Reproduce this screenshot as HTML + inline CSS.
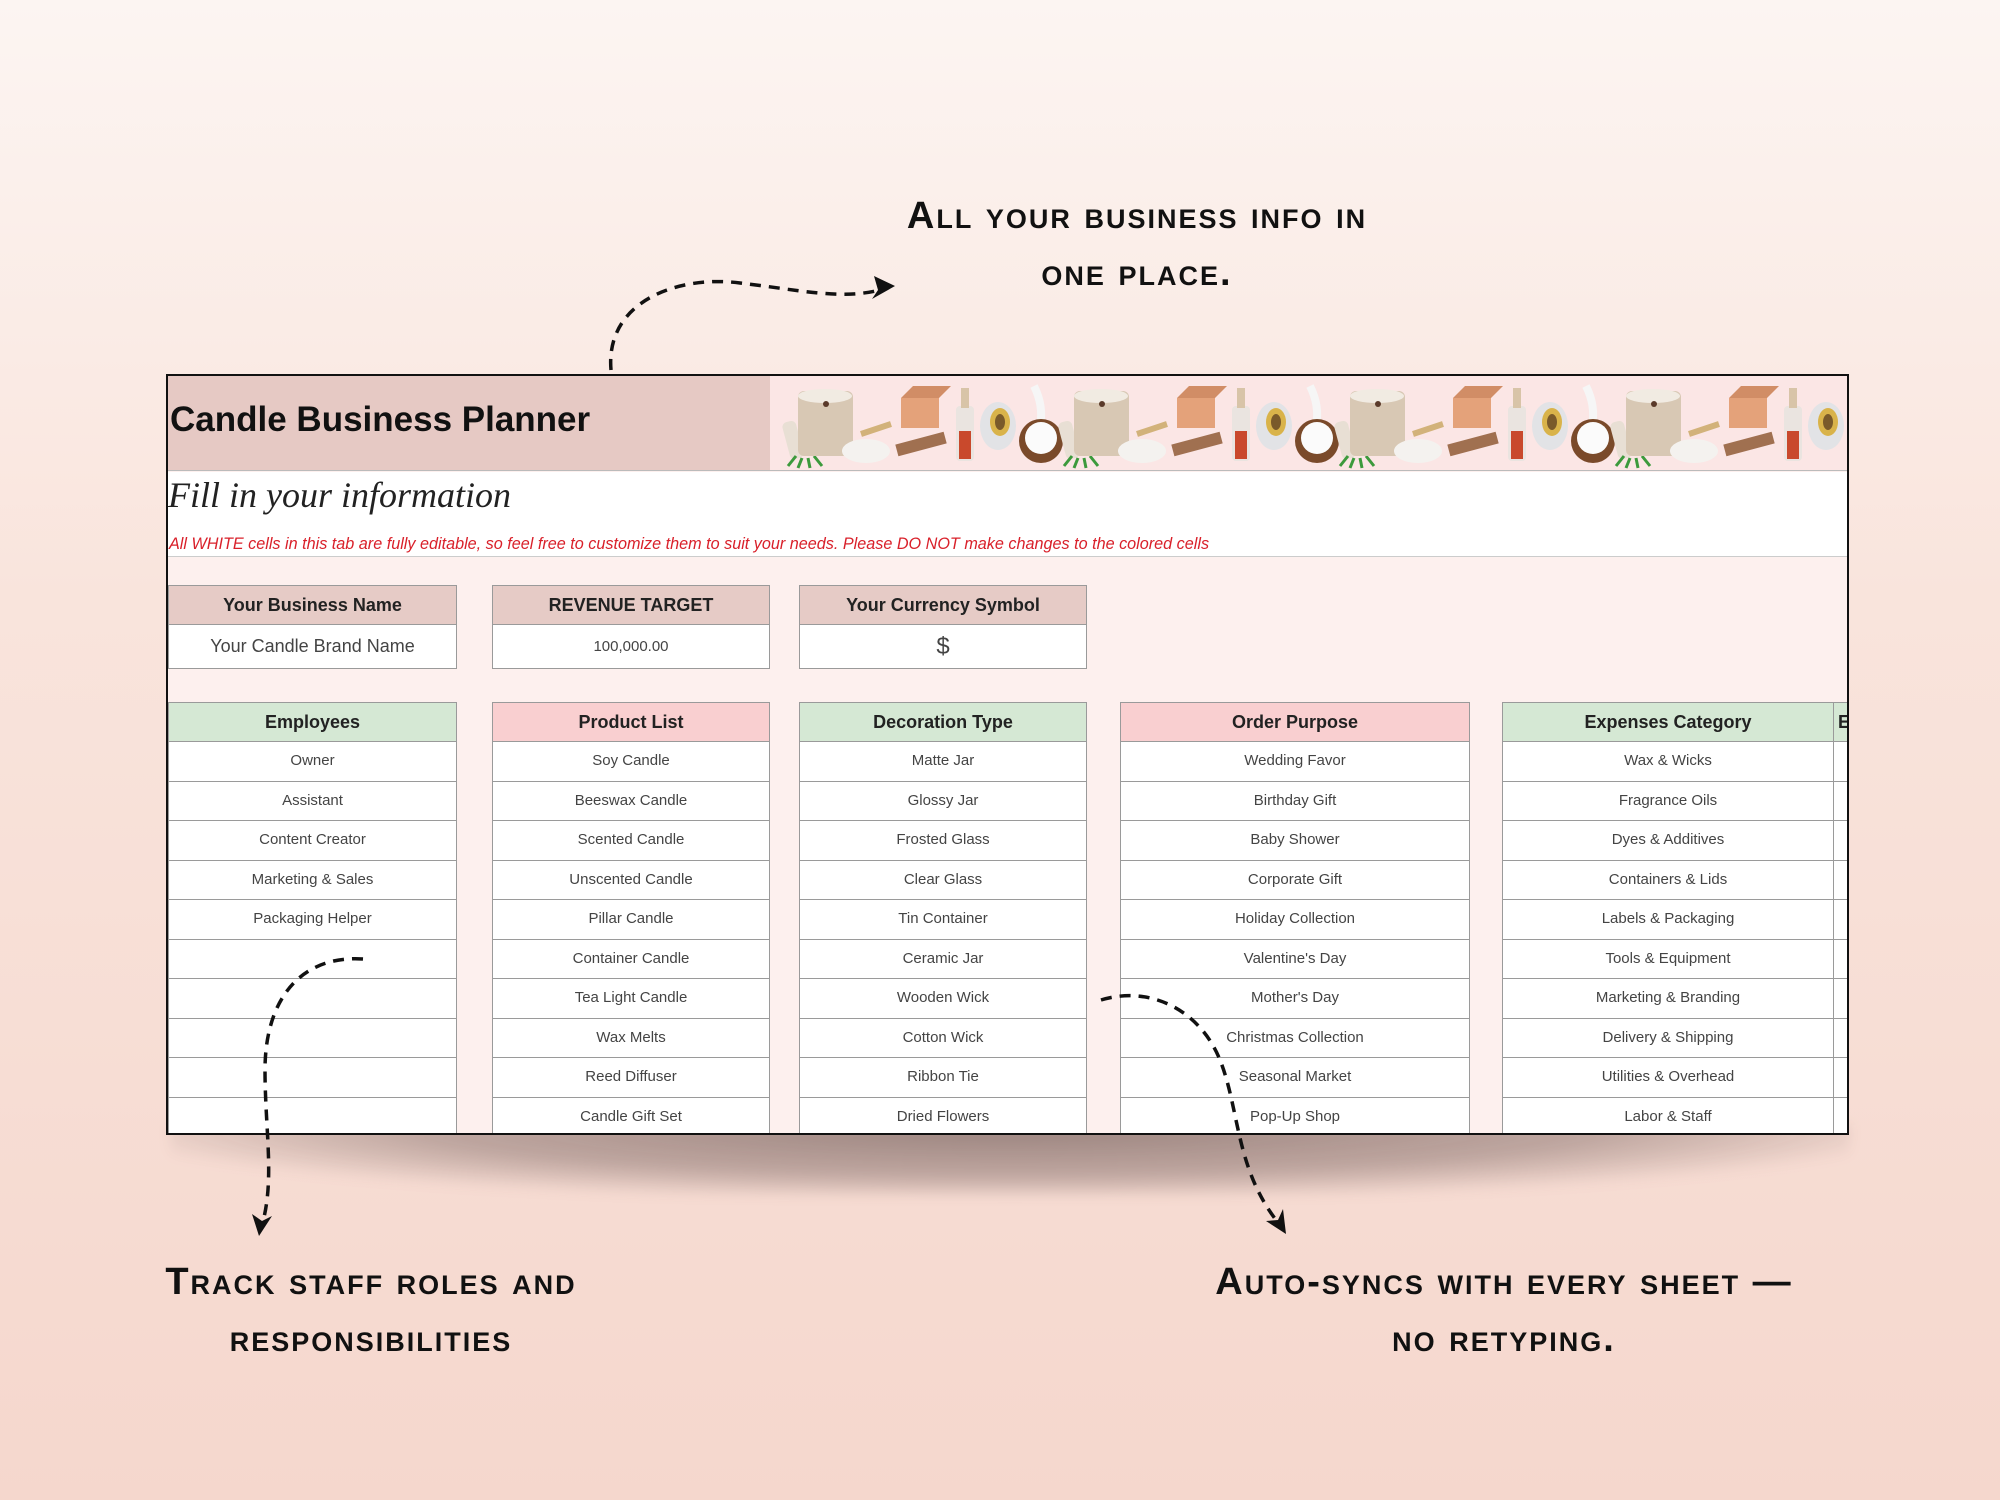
<!DOCTYPE html>
<html><head><meta charset="utf-8"><style>
*{margin:0;padding:0;box-sizing:border-box}
body{width:2000px;height:1500px;position:relative;overflow:hidden;font-family:"Liberation Sans",sans-serif;background:linear-gradient(180deg,#fcf5f2 0%,#f9e4dc 40%,#f5d7cd 100%)}
.ann{position:absolute;font-weight:bold;font-variant:small-caps;font-size:38px;letter-spacing:2px;color:#111;text-align:center;line-height:57px}
#panel{position:absolute;left:166px;top:374px;width:1683px;height:761px;border:2px solid #111;background:#fdf0ee;overflow:hidden}
.shadow{position:absolute;left:170px;top:1125px;width:1680px;height:70px;background:radial-gradient(ellipse at 50% 0%,rgba(60,40,40,.5) 0%,rgba(60,40,40,.3) 50%,rgba(0,0,0,0) 78%);filter:blur(6px)}
.abs{position:absolute}
.cell{position:absolute;border:1px solid #9a9a9a;text-align:center;font-size:15px;color:#444;background:#fff}
.hd{font-weight:bold;font-size:18px;color:#222}
</style></head><body>
<div class="shadow"></div>
<div id="panel">
  <div class="abs" style="left:0;top:0;width:602px;height:95px;background:#e6c9c4;border-bottom:1px solid #bbb"></div>
  <div class="abs" style="left:602px;top:0;width:1081px;height:95px;background:#fbe6e5;border-bottom:1px solid #bbb"></div>
  <div class="abs" style="left:2px;top:24px;font-size:35px;font-weight:bold;color:#111">Candle Business Planner</div>
  <svg class="abs" style="left:602px;top:0" width="1081" height="95">
    <defs><g id="it">
      <rect x="10" y="45" width="14" height="38" rx="5" fill="#e8dfd4" transform="rotate(-15 17 64)"/>
      <path d="M20 80 l-8 10 M26 82 l-4 10 M32 82 l2 10 M38 80 l8 10" stroke="#3c9a3c" stroke-width="3"/>
      <rect x="22" y="15" width="55" height="65" rx="6" fill="#d8c8b4"/>
      <ellipse cx="49" cy="20" rx="27" ry="7" fill="#f1ebe2"/>
      <circle cx="50" cy="28" r="3" fill="#5a3a2a"/>
      <ellipse cx="90" cy="75" rx="24" ry="12" fill="#f4f2ef"/>
      <path d="M85 58 l30 -10" stroke="#d2b27a" stroke-width="6"/>
      <rect x="125" y="22" width="38" height="30" fill="#e4a27a"/>
      <path d="M125 22 l12 -12 h38 l-12 12z" fill="#d18d66"/>
      <rect x="120" y="62" width="50" height="12" fill="#a07050" transform="rotate(-15 145 68)"/>
      <rect x="180" y="30" width="18" height="55" rx="4" fill="#eae4e0"/>
      <rect x="183" y="55" width="12" height="28" fill="#c9492c"/>
      <rect x="185" y="12" width="8" height="20" fill="#d8c4a8"/>
      <ellipse cx="222" cy="50" rx="18" ry="24" fill="#e2e3e6"/>
      <ellipse cx="224" cy="46" rx="10" ry="14" fill="#d9b34a"/>
      <ellipse cx="224" cy="46" rx="5" ry="8" fill="#7a5a2a"/>
      <path d="M258 10 q10 20 6 40" stroke="#f6f6f6" stroke-width="8" fill="none"/>
      <circle cx="265" cy="65" r="22" fill="#7a4a2a"/>
      <circle cx="265" cy="62" r="16" fill="#fbfbfb"/>
    </g></defs>
    <use href="#it" x="6"/><use href="#it" x="282"/><use href="#it" x="558"/><use href="#it" x="834"/>
  </svg>
  <div class="abs" style="left:0;top:96px;width:1683px;height:85px;background:#fff;border-bottom:1px solid #ccc"></div>
  <div class="abs" style="left:0;top:98px;font-family:'Liberation Serif',serif;font-style:italic;font-size:36px;color:#222">Fill in your information</div>
  <div class="abs" style="left:1px;top:159px;font-style:italic;font-size:16.2px;color:#d9202a">All WHITE cells in this tab are fully editable, so feel free to customize them to suit your needs. Please DO NOT make changes to the colored cells</div>

  <div class="cell hd" style="left:0;top:209px;width:289px;height:40px;line-height:38px;background:#e6cbc6">Your Business Name</div>
  <div class="cell" style="left:0;top:248px;width:289px;height:45px;line-height:43px;font-size:18px">Your Candle Brand Name</div>
  <div class="cell hd" style="left:324px;top:209px;width:278px;height:40px;line-height:38px;background:#e6cbc6">REVENUE TARGET</div>
  <div class="cell" style="left:324px;top:248px;width:278px;height:45px;line-height:43px">100,000.00</div>
  <div class="cell hd" style="left:631px;top:209px;width:288px;height:40px;line-height:38px;background:#e6cbc6">Your Currency Symbol</div>
  <div class="cell" style="left:631px;top:248px;width:288px;height:45px;line-height:43px;font-size:24px">$</div>
  <div id="lists"></div>
</div>
<div class="ann" style="left:737px;top:188px;width:800px">All your business info in<br>one place.</div>
<div class="ann" style="left:0px;top:1254px;width:742px">Track staff roles and<br>responsibilities</div>
<div class="ann" style="left:1104px;top:1254px;width:800px">Auto-syncs with every sheet —<br>no retyping.</div>
<svg class="abs" style="left:0;top:0" width="2000" height="1500">
<g fill="none" stroke="#111" stroke-width="3.5" stroke-dasharray="11 8">
<path d="M611 370 C605 300 680 275 740 283 C800 290 840 300 880 290"/>
<path d="M363 959 C300 955 265 1000 265 1070 C265 1130 275 1180 262 1225"/>
<path d="M1101 1000 C1150 985 1200 1010 1220 1060 C1240 1110 1235 1170 1280 1225"/>
</g>
<g fill="#111">
<path d="M895 286 L874 276 L878 290 L872 299z"/>
<path d="M259 1236 L252 1214 L262 1221 L272 1216z"/>
<path d="M1286 1234 L1266 1221 L1278 1220 L1283 1209z"/>
</g>
</svg>
<script>
var cols=[
[0,289,"#d5e8d4","Employees",["Owner","Assistant","Content Creator","Marketing & Sales","Packaging Helper","","","","",""]],
[324,278,"#f9cfd0","Product List",["Soy Candle","Beeswax Candle","Scented Candle","Unscented Candle","Pillar Candle","Container Candle","Tea Light Candle","Wax Melts","Reed Diffuser","Candle Gift Set"]],
[631,288,"#d5e8d4","Decoration Type",["Matte Jar","Glossy Jar","Frosted Glass","Clear Glass","Tin Container","Ceramic Jar","Wooden Wick","Cotton Wick","Ribbon Tie","Dried Flowers"]],
[952,350,"#f9cfd0","Order Purpose",["Wedding Favor","Birthday Gift","Baby Shower","Corporate Gift","Holiday Collection","Valentine's Day","Mother's Day","Christmas Collection","Seasonal Market","Pop-Up Shop"]],
[1334,332,"#d5e8d4","Expenses Category",["Wax & Wicks","Fragrance Oils","Dyes & Additives","Containers & Lids","Labels & Packaging","Tools & Equipment","Marketing & Branding","Delivery & Shipping","Utilities & Overhead","Labor & Staff"]],
[1665,40,"#d5e8d4","E",["","","","","","","","","",""]]
];
var h="";
cols.forEach(function(c){
 h+='<div class="cell hd" style="left:'+c[0]+'px;top:326px;width:'+c[1]+'px;height:40px;line-height:38px;background:'+c[2]+(c[3]=="E"?';text-align:left;padding-left:4px':'')+'">'+c[3]+'</div>';
 for(var i=0;i<11;i++){var t=i<10?c[4][i]:"";
 h+='<div class="cell" style="left:'+c[0]+'px;top:'+(365+i*39.5)+'px;width:'+c[1]+'px;height:40.5px;line-height:38px">'+t.replace(/&/g,"&amp;")+'</div>';}
});
document.getElementById("lists").innerHTML=h;
</script>
</body></html>
